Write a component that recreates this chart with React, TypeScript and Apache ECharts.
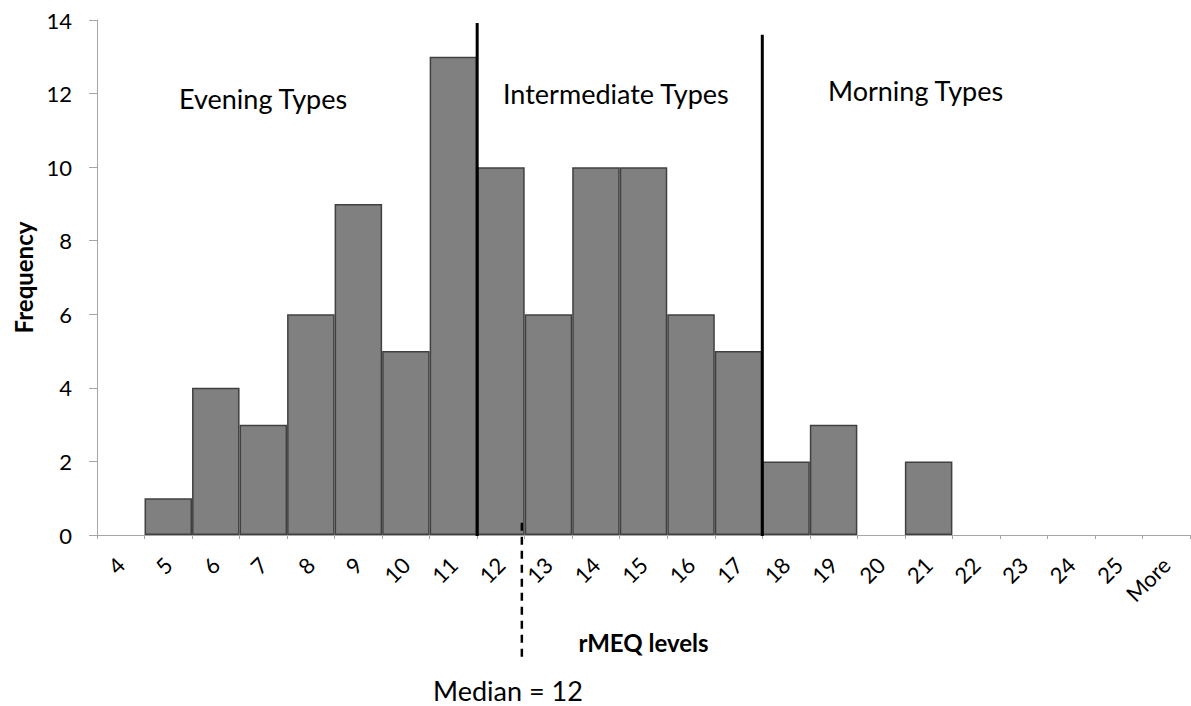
import React, { useEffect, useRef } from "react";
import * as echarts from "echarts";

const categories = ["4", "5", "6", "7", "8", "9", "10", "11", "12", "13", "14", "15", "16", "17", "18", "19", "20", "21", "22", "23", "24", "25", "More"];
const frequency = [0, 1, 4, 3, 6, 9, 5, 13, 10, 6, 10, 10, 6, 5, 2, 3, 0, 2, 0, 0, 0, 0, 0];
const yTicks = { min: 0, max: 14, interval: 2 };
const medianLabel = "Median = 12";
const groupLabels = ["Evening Types", "Intermediate Types", "Morning Types"];

const FONT = "Lato, 'Open Sans', sans-serif";

export default function App() {
  const ref = useRef<HTMLDivElement>(null);
  useEffect(() => {
    if (!ref.current) return;
    const chart = echarts.init(ref.current, null, { renderer: "svg" });
    chart.setOption({
      animation: false,
      textStyle: { fontFamily: FONT },
      grid: { left: 97, right: 1, top: 20, bottom: 171, containLabel: false, outerBoundsMode: "none" },
      xAxis: {
        type: "category",
        data: categories,
        boundaryGap: true,
        name: "rMEQ levels",
        nameLocation: "middle",
        nameGap: 95,
        nameTextStyle: { fontFamily: FONT, fontWeight: "bold", fontSize: 24, color: "#000" },
        axisLine: { lineStyle: { color: "#a6a6a6", width: 1 } },
        axisTick: { show: true, length: 4, lineStyle: { color: "#a6a6a6" } },
        axisLabel: { rotate: 45, margin: 26, fontSize: 22, color: "#000", fontFamily: FONT, interval: 0 },
        splitLine: { show: false },
      },
      yAxis: {
        type: "value",
        min: yTicks.min,
        max: yTicks.max,
        interval: yTicks.interval,
        name: "Frequency",
        nameLocation: "middle",
        nameGap: 62,
        nameRotate: 90,
        nameTextStyle: { fontFamily: FONT, fontWeight: "bold", fontSize: 24, color: "#000" },
        axisLine: { show: true, lineStyle: { color: "#a6a6a6", width: 1 } },
        axisTick: { show: true, length: 8, lineStyle: { color: "#a6a6a6" } },
        axisLabel: { fontSize: 22, color: "#000", margin: 25, fontFamily: FONT },
        splitLine: { show: false },
      },
      series: [
        {
          type: "bar",
          barCategoryGap: "0%",
          data: frequency.map((v) => ({
            value: v,
            itemStyle: v === 0 ? { borderWidth: 0 } : undefined,
          })),
          itemStyle: { color: "#808080", borderColor: "#404040", borderWidth: 1.5 },
        },
      ],
    });

    const px = (i: number) => chart.convertToPixel({ xAxisIndex: 0 }, categories[i]) as number;
    const py = (v: number) => chart.convertToPixel({ yAxisIndex: 0 }, v) as number;
    const band = px(1) - px(0);
    const i12 = categories.indexOf("12");
    const i18 = categories.indexOf("18");
    const b1 = px(i12) - band / 2;
    const b2 = px(i18) - band / 2;
    const medX = px(i12) + 0.44 * band;
    const y0 = py(0);

    chart.setOption({
      graphic: [
        { type: "line", shape: { x1: b1, y1: py(13.92), x2: b1, y2: y0 + 1 }, style: { stroke: "#000", lineWidth: 3 }, z: 100 },
        { type: "line", shape: { x1: b2, y1: py(13.6), x2: b2, y2: y0 + 1 }, style: { stroke: "#000", lineWidth: 3 }, z: 100 },
        { type: "line", shape: { x1: medX, y1: py(0.33), x2: medX, y2: y0 + 122 }, style: { stroke: "#000", lineWidth: 2.5, lineDash: [8, 6] }, z: 100 },
        { type: "text", x: 179, y: 98, style: { text: groupLabels[0], fontSize: 27, fontFamily: FONT, fill: "#000", verticalAlign: "middle" }, z: 100 },
        { type: "text", x: 503, y: 93, style: { text: groupLabels[1], fontSize: 27, fontFamily: FONT, fill: "#000", verticalAlign: "middle" }, z: 100 },
        { type: "text", x: 828, y: 90, style: { text: groupLabels[2], fontSize: 27, fontFamily: FONT, fill: "#000", verticalAlign: "middle" }, z: 100 },
        { type: "text", x: 433, y: 690, style: { text: medianLabel, fontSize: 27, fontFamily: FONT, fill: "#000", verticalAlign: "middle" }, z: 100 },
      ],
    });

    return () => chart.dispose();
  }, []);
  return <div ref={ref} style={{ position: "fixed", left: 0, top: 0, width: 1191, height: 706, background: "#fff" }} />;
}
